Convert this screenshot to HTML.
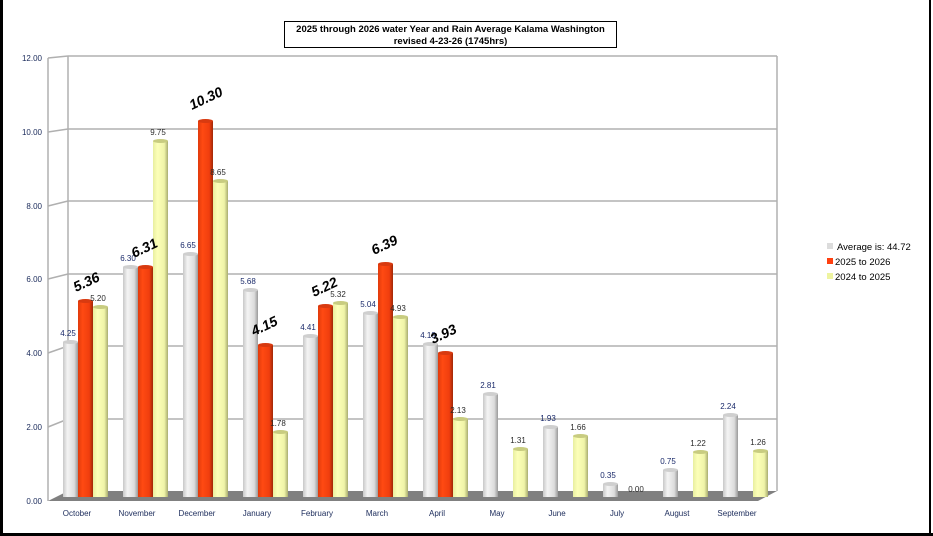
<!DOCTYPE html>
<html><head><meta charset="utf-8"><style>
html,body{margin:0;padding:0;background:#fff;}
svg{display:block;font-family:"Liberation Sans",sans-serif;}
</style></head><body>
<svg width="933" height="536" viewBox="0 0 933 536" xmlns="http://www.w3.org/2000/svg">
<defs>
<linearGradient id="ga" x1="0" x2="1" y1="0" y2="0"><stop offset="0" stop-color="#c8c8c8"/><stop offset="0.3" stop-color="#f4f4f4"/><stop offset="0.75" stop-color="#dcdcdc"/><stop offset="1" stop-color="#9a9a9a"/></linearGradient>
<linearGradient id="gr" x1="0" x2="1" y1="0" y2="0"><stop offset="0" stop-color="#e03a0c"/><stop offset="0.3" stop-color="#ff4a12"/><stop offset="0.75" stop-color="#f03e0e"/><stop offset="1" stop-color="#a02808"/></linearGradient>
<linearGradient id="gy" x1="0" x2="1" y1="0" y2="0"><stop offset="0" stop-color="#e8eea0"/><stop offset="0.3" stop-color="#fcffb8"/><stop offset="0.75" stop-color="#f0f4a8"/><stop offset="1" stop-color="#a8ac70"/></linearGradient>
</defs>
<rect x="0" y="0" width="933" height="536" fill="#fff"/>
<!-- frame -->
<rect x="0" y="0" width="3" height="536" fill="#000"/>
<rect x="929" y="0" width="2" height="536" fill="#000"/>
<rect x="0" y="533" width="933" height="3" fill="#000"/>
<!-- back wall grid -->
<g stroke="#b0b0b0" stroke-width="1.5" fill="none">
<line x1="68" y1="56" x2="777" y2="56"/>
<line x1="68" y1="129" x2="777" y2="129"/>
<line x1="68" y1="201" x2="777" y2="201"/>
<line x1="68" y1="274" x2="777" y2="274"/>
<line x1="68" y1="346" x2="777" y2="346"/>
<line x1="68" y1="419" x2="777" y2="419"/>
<line x1="68" y1="56" x2="68" y2="491"/>
<line x1="777" y1="56" x2="777" y2="491"/>
<line x1="48" y1="58" x2="48" y2="501"/>
<line x1="48" y1="58" x2="68" y2="56"/>
<line x1="48" y1="132" x2="68" y2="129"/>
<line x1="48" y1="206" x2="68" y2="201"/>
<line x1="48" y1="279" x2="68" y2="274"/>
<line x1="48" y1="353" x2="68" y2="346"/>
<line x1="48" y1="427" x2="68" y2="419"/>
</g>
<polygon points="48,501 758,501 777,491 68,491" fill="#808080"/>
<!-- y labels -->
<g font-size="8" fill="#1a2a5a" text-anchor="end">
<text x="42" y="61">12.00</text>
<text x="42" y="135">10.00</text>
<text x="42" y="209">8.00</text>
<text x="42" y="282">6.00</text>
<text x="42" y="356">4.00</text>
<text x="42" y="430">2.00</text>
<text x="42" y="504">0.00</text>
</g>
<!-- bars: avg -->
<g fill="url(#ga)">
<rect x="63" y="342" width="15" height="155"/><ellipse cx="70.5" cy="342" rx="7.5" ry="2" fill="#cfcfcf"/>
<rect x="123" y="267" width="15" height="230"/><ellipse cx="130.5" cy="267" rx="7.5" ry="2" fill="#cfcfcf"/>
<rect x="183" y="254" width="15" height="243"/><ellipse cx="190.5" cy="254" rx="7.5" ry="2" fill="#cfcfcf"/>
<rect x="243" y="290" width="15" height="207"/><ellipse cx="250.5" cy="290" rx="7.5" ry="2" fill="#cfcfcf"/>
<rect x="303" y="336" width="15" height="161"/><ellipse cx="310.5" cy="336" rx="7.5" ry="2" fill="#cfcfcf"/>
<rect x="363" y="313" width="15" height="184"/><ellipse cx="370.5" cy="313" rx="7.5" ry="2" fill="#cfcfcf"/>
<rect x="423" y="344" width="15" height="153"/><ellipse cx="430.5" cy="344" rx="7.5" ry="2" fill="#cfcfcf"/>
<rect x="483" y="394" width="15" height="103"/><ellipse cx="490.5" cy="394" rx="7.5" ry="2" fill="#cfcfcf"/>
<rect x="543" y="427" width="15" height="70"/><ellipse cx="550.5" cy="427" rx="7.5" ry="2" fill="#cfcfcf"/>
<rect x="603" y="484" width="15" height="13"/><ellipse cx="610.5" cy="484" rx="7.5" ry="2" fill="#cfcfcf"/>
<rect x="663" y="470" width="15" height="27"/><ellipse cx="670.5" cy="470" rx="7.5" ry="2" fill="#cfcfcf"/>
<rect x="723" y="415" width="15" height="82"/><ellipse cx="730.5" cy="415" rx="7.5" ry="2" fill="#cfcfcf"/>
</g>
<g fill="url(#gr)">
<rect x="78" y="301" width="15" height="196"/><ellipse cx="85.5" cy="301" rx="7.5" ry="2" fill="#d83a10"/>
<rect x="138" y="267" width="15" height="230"/><ellipse cx="145.5" cy="267" rx="7.5" ry="2" fill="#d83a10"/>
<rect x="198" y="121" width="15" height="376"/><ellipse cx="205.5" cy="121" rx="7.5" ry="2" fill="#d83a10"/>
<rect x="258" y="345" width="15" height="152"/><ellipse cx="265.5" cy="345" rx="7.5" ry="2" fill="#d83a10"/>
<rect x="318" y="306" width="15" height="191"/><ellipse cx="325.5" cy="306" rx="7.5" ry="2" fill="#d83a10"/>
<rect x="378" y="264" width="15" height="233"/><ellipse cx="385.5" cy="264" rx="7.5" ry="2" fill="#d83a10"/>
<rect x="438" y="353" width="15" height="144"/><ellipse cx="445.5" cy="353" rx="7.5" ry="2" fill="#d83a10"/>
</g>
<g fill="url(#gy)">
<rect x="93" y="307" width="15" height="190"/><ellipse cx="100.5" cy="307" rx="7.5" ry="2" fill="#c8cc80"/>
<rect x="153" y="141" width="15" height="356"/><ellipse cx="160.5" cy="141" rx="7.5" ry="2" fill="#c8cc80"/>
<rect x="213" y="181" width="15" height="316"/><ellipse cx="220.5" cy="181" rx="7.5" ry="2" fill="#c8cc80"/>
<rect x="273" y="432" width="15" height="65"/><ellipse cx="280.5" cy="432" rx="7.5" ry="2" fill="#c8cc80"/>
<rect x="333" y="303" width="15" height="194"/><ellipse cx="340.5" cy="303" rx="7.5" ry="2" fill="#c8cc80"/>
<rect x="393" y="317" width="15" height="180"/><ellipse cx="400.5" cy="317" rx="7.5" ry="2" fill="#c8cc80"/>
<rect x="453" y="419" width="15" height="78"/><ellipse cx="460.5" cy="419" rx="7.5" ry="2" fill="#c8cc80"/>
<rect x="513" y="449" width="15" height="48"/><ellipse cx="520.5" cy="449" rx="7.5" ry="2" fill="#c8cc80"/>
<rect x="573" y="436" width="15" height="61"/><ellipse cx="580.5" cy="436" rx="7.5" ry="2" fill="#c8cc80"/>
<rect x="693" y="452" width="15" height="45"/><ellipse cx="700.5" cy="452" rx="7.5" ry="2" fill="#c8cc80"/>
<rect x="753" y="451" width="15" height="46"/><ellipse cx="760.5" cy="451" rx="7.5" ry="2" fill="#c8cc80"/>
</g>
<!-- avg labels -->
<g font-size="8" fill="#1a2a6a" text-anchor="middle">
<text x="68" y="336">4.25</text>
<text x="128" y="261">6.30</text>
<text x="188" y="248">6.65</text>
<text x="248" y="284">5.68</text>
<text x="308" y="330">4.41</text>
<text x="368" y="307">5.04</text>
<text x="428" y="338">4.19</text>
<text x="488" y="388">2.81</text>
<text x="548" y="421">1.93</text>
<text x="608" y="478">0.35</text>
<text x="668" y="464">0.75</text>
<text x="728" y="409">2.24</text>
</g>
<g font-size="8" fill="#2a2a2a" text-anchor="middle">
<text x="98" y="301">5.20</text>
<text x="158" y="135">9.75</text>
<text x="218" y="175">8.65</text>
<text x="278" y="426">1.78</text>
<text x="338" y="297">5.32</text>
<text x="398" y="311">4.93</text>
<text x="458" y="413">2.13</text>
<text x="518" y="443">1.31</text>
<text x="578" y="430">1.66</text>
<text x="636" y="492">0.00</text>
<text x="698" y="446">1.22</text>
<text x="758" y="445">1.26</text>
</g>
<g font-size="14" font-weight="bold" font-style="italic" fill="#000">
<text transform="translate(76,292) rotate(-25)">5.36</text>
<text transform="translate(134,258) rotate(-25)">6.31</text>
<text transform="translate(192,110) rotate(-25)">10.30</text>
<text transform="translate(254,336) rotate(-25)">4.15</text>
<text transform="translate(314,297) rotate(-25)">5.22</text>
<text transform="translate(374,255) rotate(-25)">6.39</text>
<text transform="translate(433,344) rotate(-25)">3.93</text>
</g>
<!-- month labels -->
<g font-size="8" fill="#1a2a5a" text-anchor="middle">
<text x="77" y="516">October</text>
<text x="137" y="516">November</text>
<text x="197" y="516">December</text>
<text x="257" y="516">January</text>
<text x="317" y="516">February</text>
<text x="377" y="516">March</text>
<text x="437" y="516">April</text>
<text x="497" y="516">May</text>
<text x="557" y="516">June</text>
<text x="617" y="516">July</text>
<text x="677" y="516">August</text>
<text x="737" y="516">September</text>
</g>
<!-- legend -->
<rect x="827" y="243" width="6" height="6" fill="#dcdcdc"/>
<rect x="827" y="258" width="6" height="6" fill="#ff4010"/>
<rect x="827" y="273" width="6" height="6" fill="#eef4a0"/>
<g font-size="9.5" fill="#000">
<text x="837" y="250">Average is: 44.72</text>
<text x="835" y="265">2025 to 2026</text>
<text x="835" y="280">2024 to 2025</text>
</g>
<!-- title -->
<rect x="284.5" y="21.5" width="332" height="26" fill="#fff" stroke="#000" stroke-width="1"/>
<g font-size="9.5" font-weight="bold" fill="#000" text-anchor="middle">
<text x="450.5" y="32">2025 through 2026 water Year and Rain Average Kalama Washington</text>
<text x="450.5" y="44">revised 4-23-26 (1745hrs)</text>
</g>
</svg>
</body></html>
